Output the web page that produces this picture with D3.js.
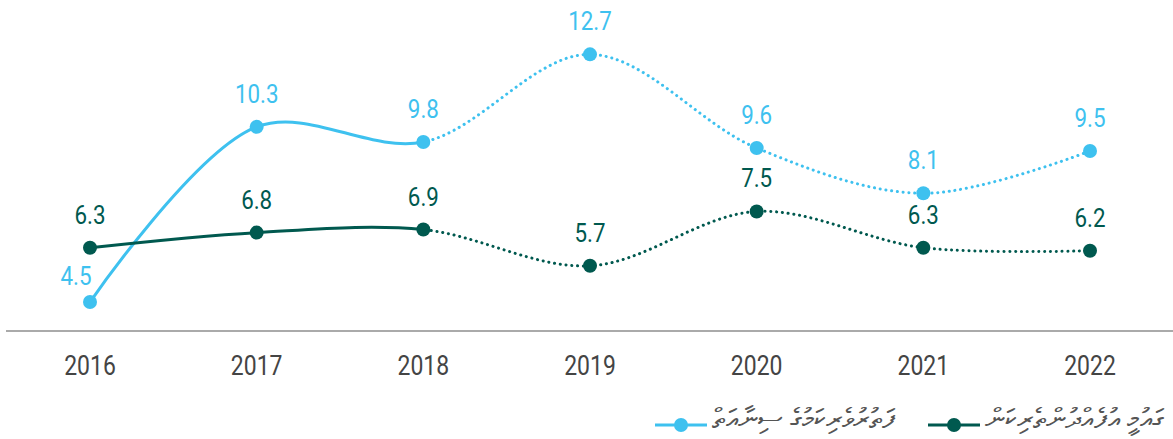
<!DOCTYPE html>
<html>
<head>
<meta charset="utf-8">
<script src="https://cdn.jsdelivr.net/npm/d3@7"></script>
<style>
  body { margin: 0; background: #fff; }
  text { font-family: Roboto, sans-serif; }
</style>
</head>
<body>
<div id="chart"></div>
<script>
const years = ['2016', '2017', '2018', '2019', '2020', '2021', '2022']
const tourism = [4.5, 10.3, 9.8, 12.7, 9.6, 8.1, 9.5]
const national = [6.3, 6.8, 6.9, 5.7, 7.5, 6.3, 6.2]
const seriesNames = ['ފަތުރުވެރިކަމުގެ ސިނާއަތް', 'ގައުމީ އުފެއްދުންތެރިކަން']
const seriesColors = ['#3ec1ef', '#00594f']
const lastActual = '2018'

const width = 1173
const height = 439

const svg = d3
  .select('#chart')
  .append('svg')
  .attr('width', width)
  .attr('height', height)

const x = d3.scalePoint().domain(years).range([90, 1090])
const y = d3.scaleLinear().domain([0, 14.5]).range([438, 0])

// baseline
svg
  .append('line')
  .attr('x1', 6)
  .attr('x2', width)
  .attr('y1', 331)
  .attr('y2', 331)
  .attr('stroke', '#aaa')
  .attr('stroke-width', 2)

// year labels (condensed look via scaleX)
svg
  .append('g')
  .selectAll('text')
  .data(years)
  .enter()
  .append('text')
  .attr('transform', d => `translate(${x(d)},375) scale(0.82,1)`)
  .attr('text-anchor', 'middle')
  .attr('font-size', 28)
  .attr('fill', '#444')
  .text(d => d)

const defs = svg.append('defs')
defs
  .append('clipPath')
  .attr('id', 'clip-solid')
  .append('rect')
  .attr('x', 0)
  .attr('y', 0)
  .attr('width', x(lastActual))
  .attr('height', height)
defs
  .append('clipPath')
  .attr('id', 'clip-dot')
  .append('rect')
  .attr('x', x(lastActual))
  .attr('y', 0)
  .attr('width', width - x(lastActual))
  .attr('height', height)

const line = d3
  .line()
  .x((d, i) => x(years[i]))
  .y(d => y(d))
  .curve(d3.curveCatmullRom.alpha(0.5))

const series = [tourism, national]

series.forEach((values, s) => {
  const color = seriesColors[s]
  const g = svg.append('g')

  g.append('path')
    .attr('d', line(values))
    .attr('fill', 'none')
    .attr('stroke', color)
    .attr('stroke-width', 3)
    .attr('clip-path', 'url(#clip-solid)')

  g.append('path')
    .attr('d', line(values))
    .attr('fill', 'none')
    .attr('stroke', color)
    .attr('stroke-width', 3)
    .attr('stroke-linecap', 'round')
    .attr('stroke-dasharray', '0.1 5.7')
    .attr('clip-path', 'url(#clip-dot)')

  g.selectAll('circle')
    .data(values)
    .enter()
    .append('circle')
    .attr('cx', (d, i) => x(years[i]))
    .attr('cy', d => y(d))
    .attr('r', 7)
    .attr('fill', color)

  g.selectAll('text')
    .data(values)
    .enter()
    .append('text')
    .attr('transform', (d, i) => {
      // the first light blue label sits low and to the left to clear the dark line
      const low = s === 0 && i === 0
      const tx = x(years[i]) - (low ? 14 : 0)
      const ty = y(d) - (low ? 17 : 24)
      return `translate(${tx},${ty}) scale(0.86,1)`
    })
    .attr('text-anchor', 'middle')
    .attr('font-size', 26)
    .attr('fill', color)
    .text(d => d.toFixed(1))
})

// legend
const legend = [
  { name: seriesNames[0], color: seriesColors[0], x: 655 },
  { name: seriesNames[1], color: seriesColors[1], x: 928 }
]

legend.forEach(l => {
  const g = svg.append('g').attr('transform', `translate(${l.x},425)`)
  g.append('line')
    .attr('x1', 0)
    .attr('x2', 52)
    .attr('stroke', l.color)
    .attr('stroke-width', 3)
  g.append('circle')
    .attr('cx', 26)
    .attr('r', 7)
    .attr('fill', l.color)
  g.append('text')
    .attr('x', 57)
    .attr('y', 0)
    .attr('dy', '0.1em')
    .attr('font-size', 28)
    .attr('fill', '#555')
    .attr('direction', 'rtl')
    .attr('text-anchor', 'end')
    .text(l.name)
})
</script>
</body>
</html>
